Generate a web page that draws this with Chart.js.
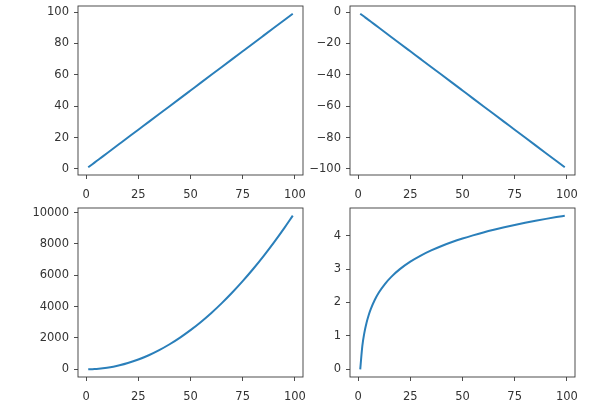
<!DOCTYPE html>
<html>
<head>
<meta charset="utf-8">
<script src="https://cdn.jsdelivr.net/npm/chart.js@4/dist/chart.umd.min.js"></script>
<style>
  body { margin: 0; background: #fff; }
  #wrap { position: relative; width: 600px; height: 406px; overflow: hidden; }
  canvas { position: absolute; }
</style>
</head>
<body>
<div id="wrap">
  <canvas id="c1" width="320" height="204" style="left:0px;top:0px"></canvas>
  <canvas id="c2" width="320" height="204" style="left:272px;top:0px"></canvas>
  <canvas id="c3" width="320" height="204" style="left:0px;top:202px"></canvas>
  <canvas id="c4" width="320" height="204" style="left:272px;top:202px"></canvas>
</div>
<script>
// sampled x positions (same for every panel)
const xValues = [1, 2, 3, 4, 5, 6, 8, 10, 13, 16, 20, 25, 30, 35, 40, 45, 50, 55, 60, 65, 70, 75, 80, 85, 90, 95, 99];

// values
const linearValues = [1, 2, 3, 4, 5, 6, 8, 10, 13, 16, 20, 25, 30, 35, 40, 45, 50, 55, 60, 65, 70, 75, 80, 85, 90, 95, 99];
const negativeValues = [-1, -2, -3, -4, -5, -6, -8, -10, -13, -16, -20, -25, -30, -35, -40, -45, -50, -55, -60, -65, -70, -75, -80, -85, -90, -95, -99];
const squareValues = [1, 4, 9, 16, 25, 36, 64, 100, 169, 256, 400, 625, 900, 1225, 1600, 2025, 2500, 3025, 3600, 4225, 4900, 5625, 6400, 7225, 8100, 9025, 9801];
const logValues = [0, 0.693, 1.099, 1.386, 1.609, 1.792, 2.079, 2.303, 2.565, 2.773, 2.996, 3.219, 3.401, 3.555, 3.689, 3.807, 3.912, 4.007, 4.094, 4.174, 4.248, 4.317, 4.382, 4.443, 4.500, 4.554, 4.595];

// tick labels
const xTicks = [0, 25, 50, 75, 100];
const linearTicks = [0, 20, 40, 60, 80, 100];
const negativeTicks = [-100, -80, -60, -40, -20, 0];
const squareTicks = [0, 2000, 4000, 6000, 8000, 10000];
const logTicks = [0, 1, 2, 3, 4];

const lineColor = '#2a7fba';
const axisColor = '#3a3a3a';

const framePlugin = {
    id: 'frame',
    afterDraw(chart) {
        const { ctx, chartArea: a } = chart;
        ctx.save();
        ctx.strokeStyle = axisColor;
        ctx.lineWidth = 0.9;
        ctx.strokeRect(a.left, a.top, a.right - a.left, a.bottom - a.top);
        ctx.restore();
    }
};

function fmt(v) {
    return v < 0 ? '\u2212' + Math.abs(v) : String(v);
}

function drawPanel(id, ys, yMin, yMax, yTicks) {
    const ctx = document.getElementById(id).getContext('2d');
    const points = xValues.map((x, i) => ({ x: x, y: ys[i] }));
    const tickFont = { family: 'DejaVu Sans', size: 11.5 };
    const grid = {
        display: true,
        drawOnChartArea: false,
        drawTicks: true,
        tickLength: 4,
        tickColor: axisColor,
        tickWidth: 0.9
    };

    return new Chart(ctx, {
        type: 'line',
        data: {
            datasets: [{
                data: points,
                borderColor: lineColor,
                borderWidth: 2,
                pointRadius: 0,
                fill: false,
                cubicInterpolationMode: 'monotone'
            }]
        },
        options: {
            responsive: false,
            animation: false,
            layout: { padding: { top: 6, right: 17, left: 0, bottom: 0 } },
            plugins: { legend: { display: false }, tooltip: { enabled: false } },
            scales: {
                x: {
                    type: 'linear',
                    min: -3.9,
                    max: 103.9,
                    grid: grid,
                    border: { display: false },
                    ticks: {
                        includeBounds: false,
                        color: '#333',
                        font: tickFont,
                        padding: 9,
                        maxRotation: 0,
                        callback: fmt
                    },
                    afterBuildTicks: s => { s.ticks = xTicks.map(v => ({ value: v })); },
                    afterFit: s => { s.height = 29; s.paddingLeft = 0; s.paddingRight = 0; }
                },
                y: {
                    type: 'linear',
                    min: yMin,
                    max: yMax,
                    grid: grid,
                    border: { display: false },
                    ticks: {
                        includeBounds: false,
                        color: '#333',
                        font: tickFont,
                        padding: 5,
                        callback: fmt
                    },
                    afterBuildTicks: s => { s.ticks = yTicks.map(v => ({ value: v })); },
                    afterFit: s => { s.width = 78; s.paddingTop = 0; s.paddingBottom = 0; }
                }
            }
        },
        plugins: [framePlugin]
    });
}

drawPanel('c1', linearValues, -3.9, 103.9, linearTicks);
drawPanel('c2', negativeValues, -103.9, 3.9, negativeTicks);
drawPanel('c3', squareValues, -489, 10291, squareTicks);
drawPanel('c4', logValues, -0.23, 4.825, logTicks);
</script>
</body>
</html>
